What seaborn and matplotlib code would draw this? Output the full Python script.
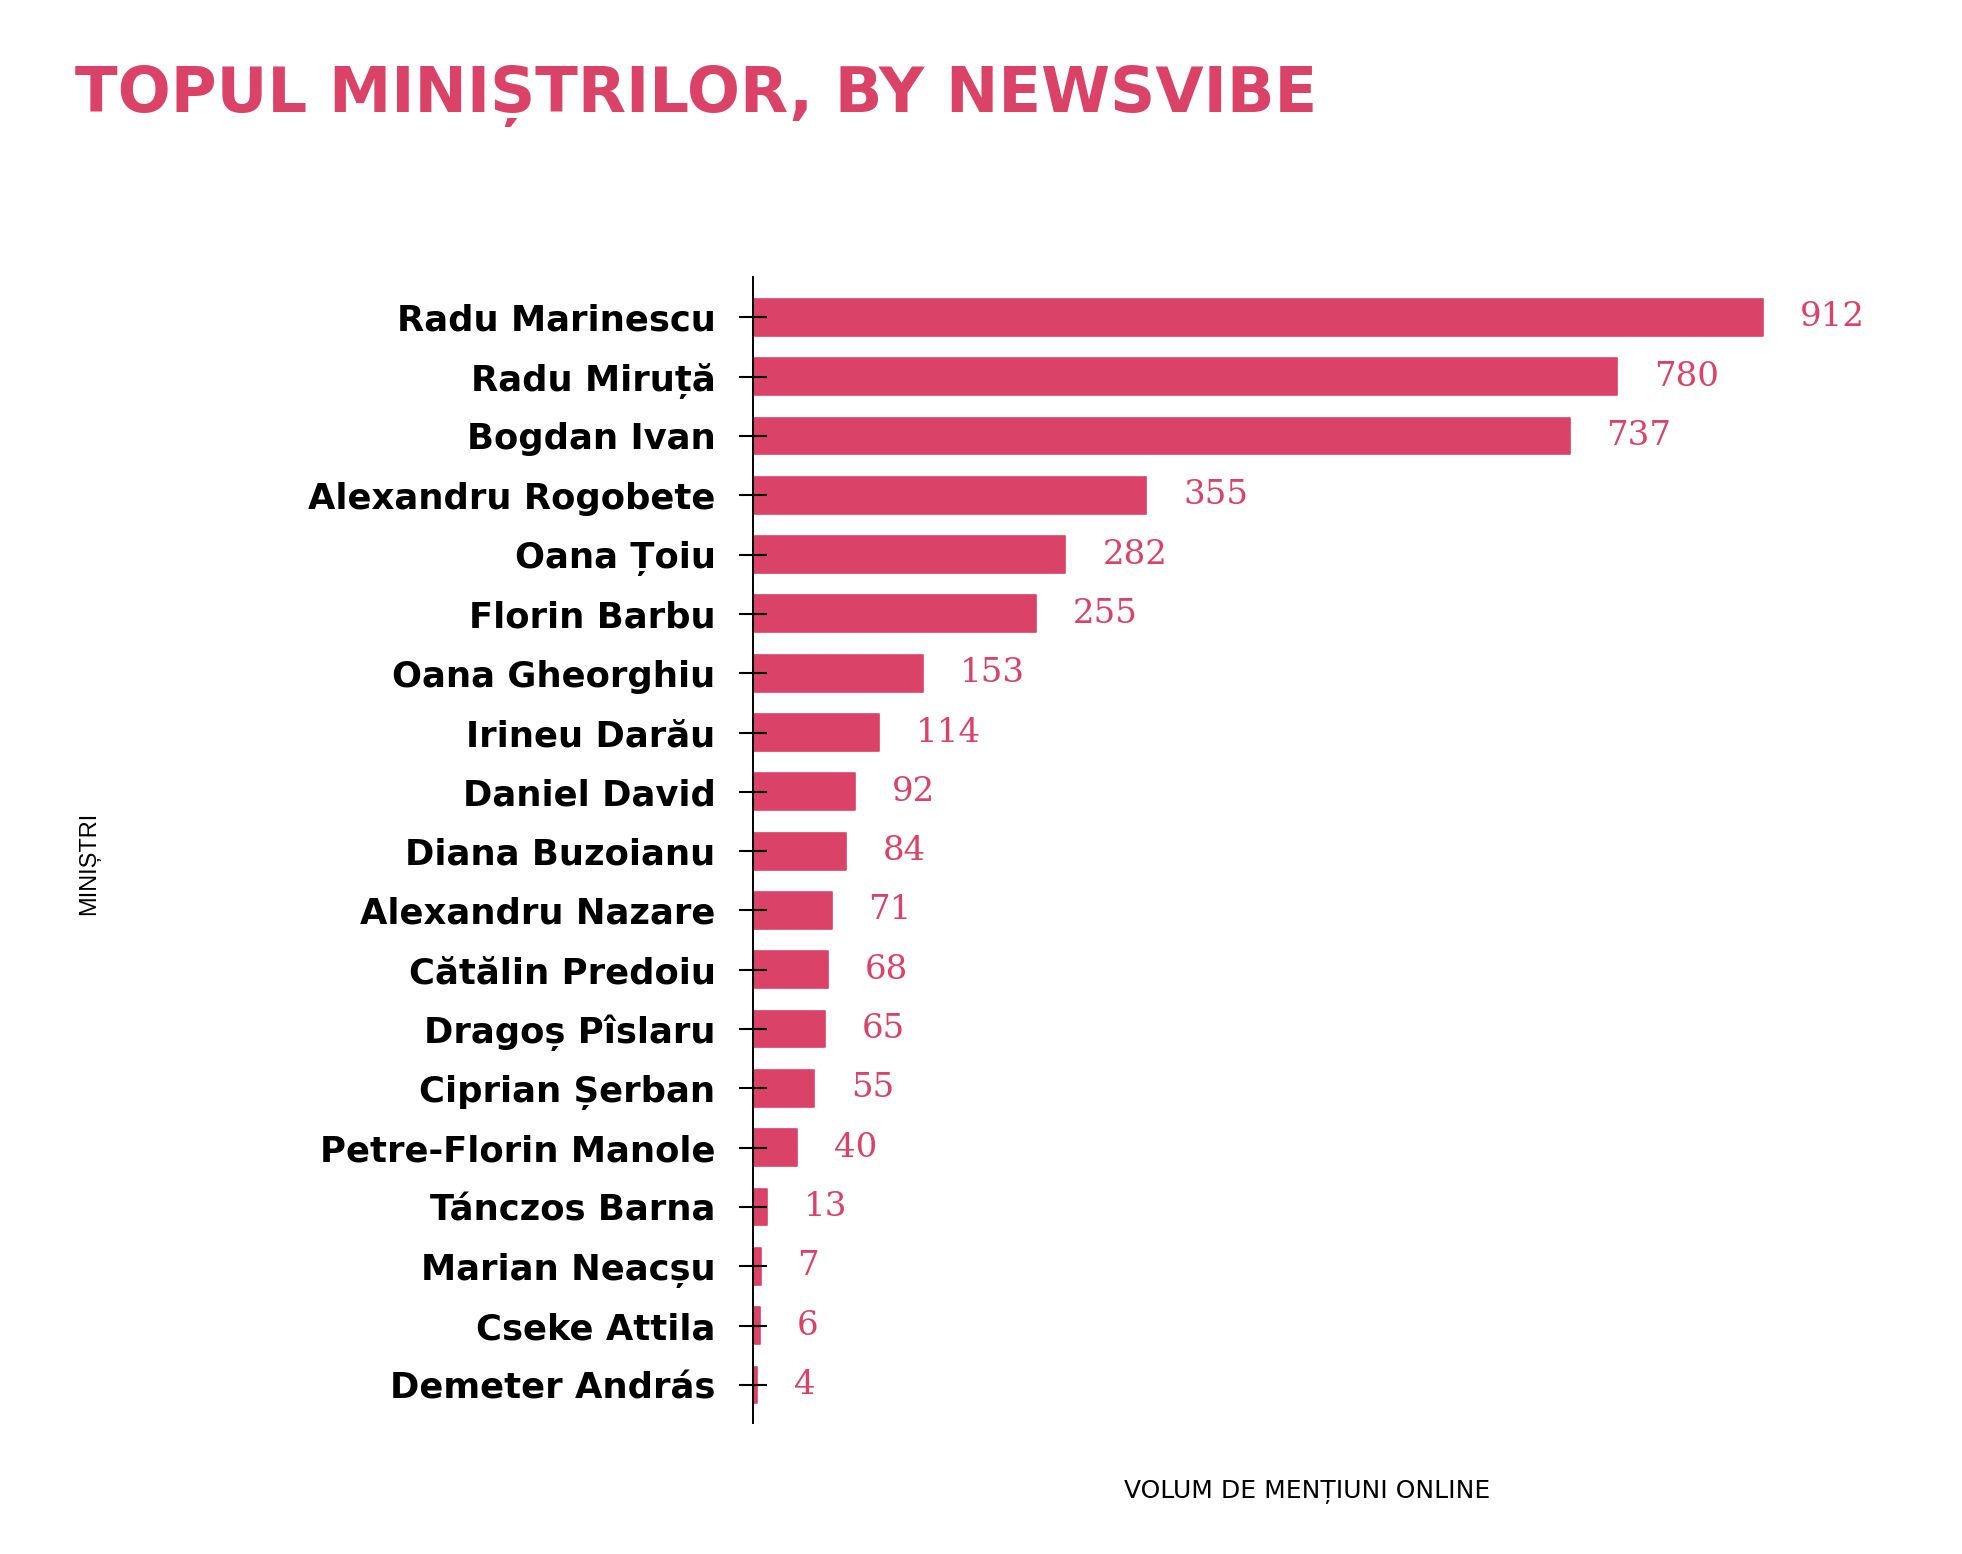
import matplotlib
matplotlib.use("Agg")
import matplotlib.pyplot as plt
import seaborn as sns
import pandas as pd

# data
ministri = [
    "Radu Marinescu", "Radu Miruță", "Bogdan Ivan", "Alexandru Rogobete",
    "Oana Țoiu", "Florin Barbu", "Oana Gheorghiu", "Irineu Darău",
    "Daniel David", "Diana Buzoianu", "Alexandru Nazare", "Cătălin Predoiu",
    "Dragoș Pîslaru", "Ciprian Șerban", "Petre-Florin Manole", "Tánczos Barna",
    "Marian Neacșu", "Cseke Attila", "Demeter András",
]
mentiuni = [912, 780, 737, 355, 282, 255, 153, 114, 92, 84, 71, 68, 65, 55, 40, 13, 7, 6, 4]

PINK = "#DA4267"

sns.set_theme(style="white")
plt.rcParams["font.family"] = ["DejaVu Sans"]

df = pd.DataFrame({"ministru": ministri, "mentiuni": mentiuni})

fig = plt.figure(figsize=(19.62, 15.54), dpi=100)
ax = fig.add_axes([0.3838, 0.0843, 0.5647, 0.7375])

sns.barplot(data=df, x="mentiuni", y="ministru", orient="h", color=PINK,
            saturation=1, width=0.62, ax=ax)
for bar in ax.patches:
    bar.set_edgecolor(PINK)
    bar.set_linewidth(1.2)
    bar.set_joinstyle("round")

ax.bar_label(ax.containers[0], padding=26.5, fontsize=24.5, color=PINK,
             family="DejaVu Serif")

ax.set_xlim(0, 1000)
ax.set_ylim(18.64, -0.68)
ax.set_axisbelow(False)

sns.despine(ax=ax, top=True, right=True, bottom=True, left=False)
ax.spines["left"].set_color("black")
ax.spines["left"].set_linewidth(1.4)

ax.set_xticks([])
ax.tick_params(axis="y", left=True, direction="inout", length=20, width=1.5,
               color="black", pad=17, labelsize=25.5)
for lbl in ax.get_yticklabels():
    lbl.set_fontweight("bold")
    lbl.set_color("black")

ax.set_xlabel("VOLUM DE MENȚIUNI ONLINE", fontsize=18, color="black", va="center")
ax.xaxis.set_label_coords(0.5, -0.060)
ax.set_ylabel("MINIȘTRI", fontsize=17, color="black", family="Liberation Sans",
              va="center")
ax.yaxis.set_label_coords(-0.599, 0.488)

fig.text(75 / 1962, 1 - 112 / 1554, "TOPUL MINIȘTRILOR, BY NEWSVIBE",
         fontsize=45, fontweight="bold", color=PINK, ha="left", va="baseline")

fig.savefig("out.png", dpi=100, facecolor="white")
